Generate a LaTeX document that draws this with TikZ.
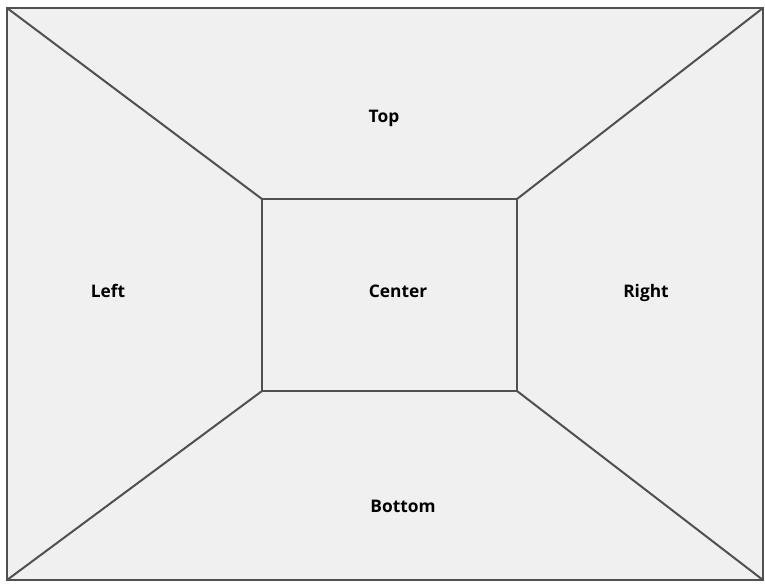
\documentclass[tikz,border=0pt]{standalone}
\usepackage{fontspec}
\setmainfont{Open Sans}
\usepackage{tikz}
\usetikzlibrary{positioning, calc}
\definecolor{wallgray}{RGB}{80,80,80}
\definecolor{roomfill}{RGB}{240,240,240}

\begin{document}
\begin{tikzpicture}[x=0.75pt,y=-0.75pt,
	wall/.style={draw=wallgray, line width=1.5pt, line join=miter},
	lbl/.style={font=\bfseries\fontsize{13}{15}\selectfont, text=black,
		text height=1.6ex, text depth=0.4ex}]
	\useasboundingbox (0,0) rectangle (765,583);
	\fill[white] (0,0) rectangle (765,583);
	% outer frame and inner face
	\draw[wall,fill=roomfill] (7,8) rectangle (763,580);
	\draw[wall] (262,199) rectangle (517,391);
	% edges of the box
	\draw[wall] (7,8)--(262,199);
	\draw[wall] (763,8)--(517,199);
	\draw[wall] (7,580)--(262,391);
	\draw[wall] (763,580)--(517,391);
	% labels
	\node[lbl] (top) at (384,118) {Top};
	\node[lbl] (left) at (108,293) {Left};
	\node[lbl] (center) at (398,293) {Center};
	\node[lbl] (right) at (646,293) {Right};
	\node[lbl] (bottom) at (403,508) {Bottom};
\end{tikzpicture}
\end{document}
